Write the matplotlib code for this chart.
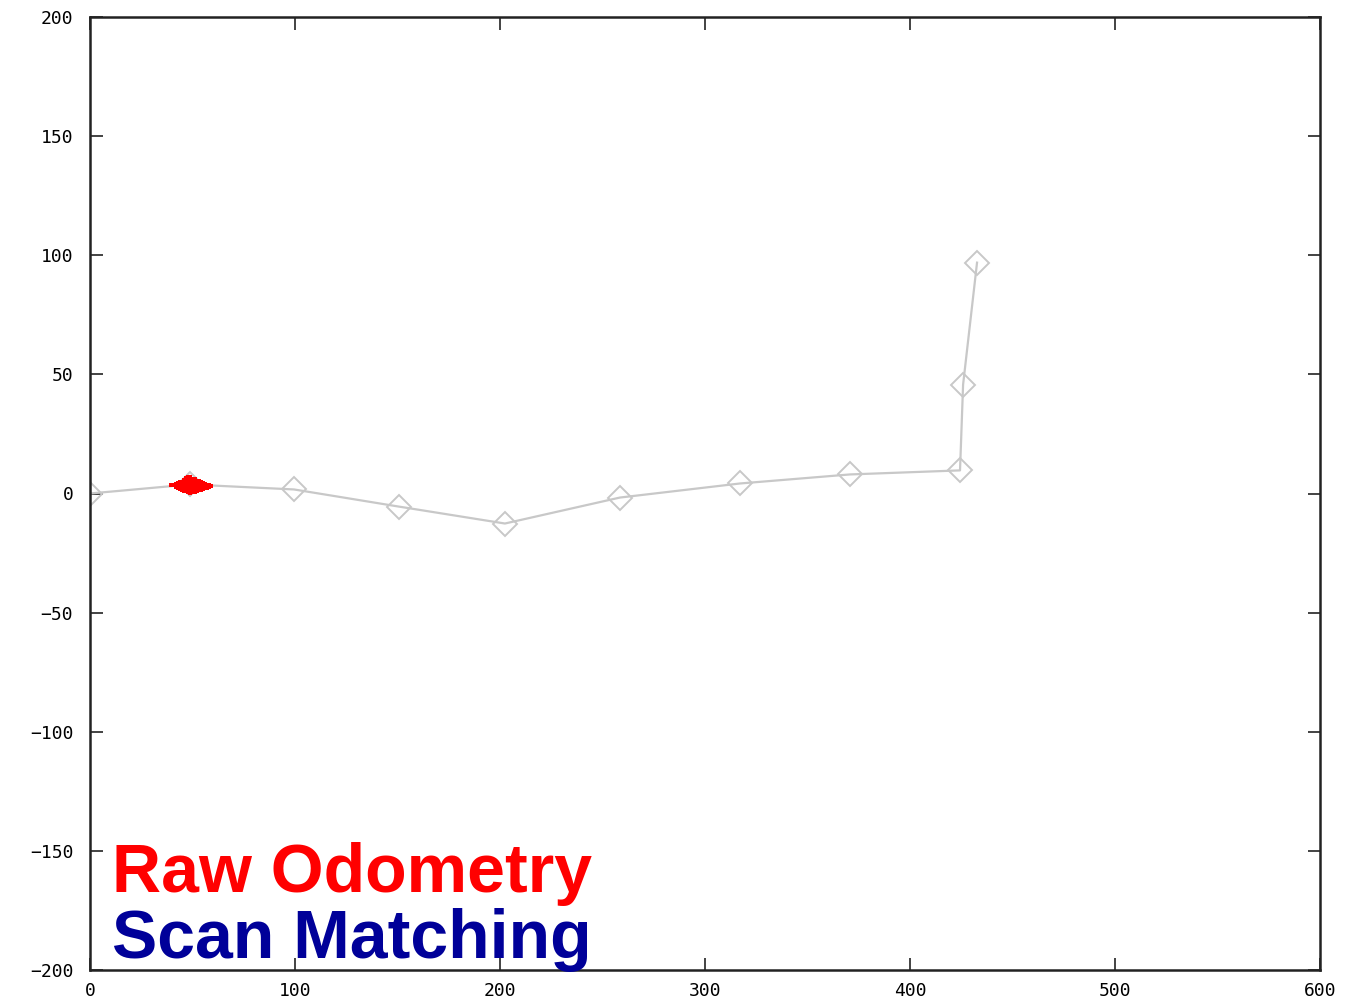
import matplotlib
matplotlib.use("Agg")
import matplotlib.pyplot as plt

# scan matching trajectory (diamonds)
scan_x = [0, 48.8, 99.5, 150.7, 202.4, 258.5, 317.0, 370.7, 424.4, 425.9, 432.7]
scan_y = [0, 3.8, 1.7, -5.5, -12.6, -1.7, 4.2, 8.0, 9.7, 45.7, 96.9]

# raw odometry cloud, read column by column
red_cols = [39.5, 40.8, 42, 43, 44, 45, 46, 47, 48, 49, 50, 51, 52, 53, 54, 55, 56, 57, 58, 59]
red_vals = [
    [3.6],
    [3.4],
    [3.8, 2.9],
    [2.3, 3.5, 4.5],
    [1.8, 3.0, 4.0, 5.0],
    [1.5, 2.8, 3.8, 5.0],
    [1.2, 2.5, 3.5, 4.5, 5.6],
    [0.9, 2.2, 3.2, 4.2, 5.2, 6.3],
    [0.5, 1.8, 2.8, 3.8, 4.8, 5.8, 6.9],
    [0.2, 1.5, 2.5, 3.5, 4.5, 5.5, 6.8],
    [0.5, 1.8, 2.8, 3.8, 4.8, 6.0],
    [0.8, 2.0, 3.0, 4.0, 5.0, 6.0],
    [1.0, 2.3, 3.3, 4.3, 5.4],
    [1.3, 2.5, 3.5, 4.5, 5.2],
    [1.6, 2.8, 3.8, 4.8],
    [1.9, 3.0, 4.2],
    [2.1, 3.2, 4.1],
    [2.4, 3.5],
    [2.7, 3.6],
    [3.1],
]

xticks = [0, 100, 200, 300, 400, 500, 600]
yticks = [-200, -150, -100, -50, 0, 50, 100, 150, 200]

red_x = []
red_y = []
for cx, ys in zip(red_cols, red_vals):
    for yv in ys:
        red_x.append(cx)
        red_y.append(yv)

fig = plt.figure(figsize=(13.46, 10.07), dpi=100)
ax = fig.add_axes([90 / 1346, 37 / 1007, 1230 / 1346, 953 / 1007])

ax.plot(scan_x, scan_y, color="#c8c8c8", linewidth=1.6, marker="D",
        markersize=12.5, markerfacecolor="none", markeredgecolor="#c8c8c8",
        markeredgewidth=1.4, zorder=2)
ax.plot(red_x, red_y, linestyle="none", marker="s", markersize=3.2,
        color="#ff0000", markeredgewidth=0, zorder=3)

ax.set_xlim(0, 600)
ax.set_ylim(-200, 200)
ax.set_xticks(xticks)
ax.set_yticks(yticks)

for s in ax.spines.values():
    s.set_linewidth(1.8)
    s.set_color("#222222")

ax.tick_params(direction="in", length=9, width=1.2, top=True, right=True,
               labelsize=13, color="#222222")
ax.tick_params(axis="x", pad=9)
ax.tick_params(axis="y", pad=12)
for lbl in ax.get_xticklabels() + ax.get_yticklabels():
    lbl.set_fontfamily("DejaVu Sans Mono")

ax.text(0.018, 0.082, "Raw Odometry", transform=ax.transAxes, color="#ff0000",
        fontsize=49, fontweight="bold", family="Liberation Sans",
        ha="left", va="baseline")
ax.text(0.018, 0.0125, "Scan Matching", transform=ax.transAxes, color="#000099",
        fontsize=49, fontweight="bold", family="Liberation Sans",
        ha="left", va="baseline")

fig.savefig("out.png", dpi=100, facecolor="white")
